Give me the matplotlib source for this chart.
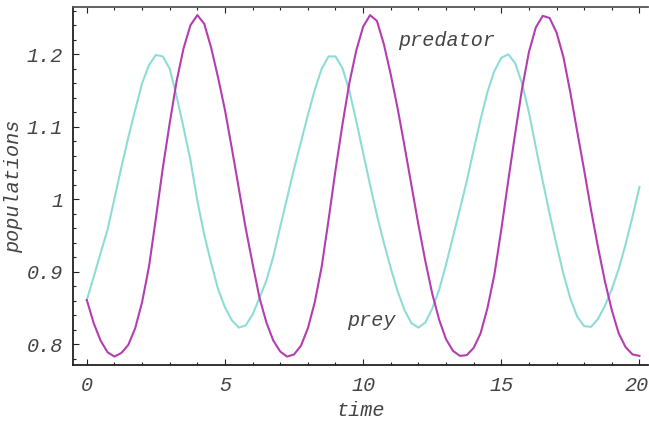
import matplotlib
matplotlib.use("Agg")
import matplotlib.pyplot as plt
from matplotlib.ticker import MultipleLocator
from matplotlib.transforms import ScaledTranslation

# values, every 0.25 time units
time = [i * 0.25 for i in range(81)]

prey = [0.861, 0.893, 0.926, 0.958, 1.001, 1.044, 1.085, 1.123, 1.160, 1.185,
        1.199, 1.197, 1.180, 1.142, 1.099, 1.054, 0.998, 0.951, 0.912, 0.876,
        0.851, 0.833, 0.823, 0.826, 0.841, 0.864, 0.888, 0.921, 0.962, 1.002,
        1.042, 1.079, 1.116, 1.151, 1.180, 1.197, 1.197, 1.181, 1.150, 1.108,
        1.064, 1.020, 0.978, 0.940, 0.905, 0.873, 0.847, 0.829, 0.823, 0.830,
        0.849, 0.875, 0.910, 0.948, 0.986, 1.025, 1.068, 1.110, 1.148, 1.177,
        1.195, 1.200, 1.188, 1.160, 1.120, 1.072, 1.025, 0.980, 0.937, 0.897,
        0.863, 0.838, 0.825, 0.824, 0.835, 0.853, 0.876, 0.904, 0.938, 0.976,
        1.017]

predator = [0.861, 0.829, 0.805, 0.789, 0.783, 0.788, 0.799, 0.822, 0.858, 0.907,
            0.974, 1.043, 1.105, 1.163, 1.208, 1.240, 1.254, 1.242, 1.209, 1.168,
            1.123, 1.070, 1.015, 0.960, 0.911, 0.864, 0.830, 0.805, 0.790, 0.783,
            0.786, 0.798, 0.822, 0.858, 0.907, 0.972, 1.040, 1.103, 1.160, 1.205,
            1.238, 1.254, 1.246, 1.214, 1.172, 1.125, 1.073, 1.019, 0.965, 0.915,
            0.870, 0.834, 0.807, 0.791, 0.784, 0.785, 0.795, 0.815, 0.850, 0.896,
            0.958, 1.025, 1.090, 1.152, 1.203, 1.237, 1.253, 1.250, 1.230, 1.196,
            1.147, 1.093, 1.040, 0.985, 0.934, 0.887, 0.847, 0.815, 0.796, 0.786,
            0.784]

xticks = [0, 5, 10, 15, 20]
xtick_labels = ["0", "5", "10", "15", "20"]
yticks = [0.8, 0.9, 1.0, 1.1, 1.2]
ytick_labels = ["0.8", "0.9", "1", "1.1", "1.2"]

font = dict(family="Liberation Mono", style="italic", color="#444444", size=14.5)

fig = plt.figure(figsize=(6.49, 4.22), dpi=100)
ax = fig.add_axes([73 / 649, 57 / 422, 575 / 649, 358 / 422])

ax.plot(time, prey, color="#8edcd6", lw=1.5)
ax.plot(time, predator, color="#b43db0", lw=1.5)

ax.text(11.25, 1.2185, "predator", ha="left", va="center", **font)
ax.text(9.4, 0.8333, "prey", ha="left", va="center", **font)

ax.set_xlim(-0.5, 20.31)
ax.set_ylim(0.7714, 1.2652)

ax.xaxis.set_minor_locator(MultipleLocator(1))
ax.yaxis.set_minor_locator(MultipleLocator(0.02))
ax.tick_params(which="both", direction="in", top=True, right=False,
               width=0.8, color="#222222", labelcolor="#444444")
ax.tick_params(which="major", length=4.5)
ax.tick_params(which="minor", length=2.2)
ax.tick_params(axis="x", pad=8)
ax.tick_params(axis="y", pad=7)

ax.set_xticks(xticks)
ax.set_xticklabels(xtick_labels)
ax.set_yticks(yticks)
ax.set_yticklabels(ytick_labels)
for lab in ax.get_xticklabels() + ax.get_yticklabels():
    lab.set_fontfamily("Liberation Mono")
    lab.set_fontstyle("italic")
    lab.set_fontsize(14.5)

# the last x label sits right at the figure edge, pull it in a little
last = ax.get_xticklabels()[-1]
last.set_transform(last.get_transform() + ScaledTranslation(-3 / 100, 0, fig.dpi_scale_trans))

ax.set_xlabel("time", labelpad=4, **font)
ax.set_ylabel("populations", labelpad=3, **font)

ax.spines["right"].set_visible(False)
ax.spines["left"].set_color("#222222")
ax.spines["bottom"].set_color("#222222")
ax.spines["top"].set_color("#555555")
for s in ["left", "bottom", "top"]:
    ax.spines[s].set_linewidth(1.3)

fig.savefig("out.png", dpi=100)
